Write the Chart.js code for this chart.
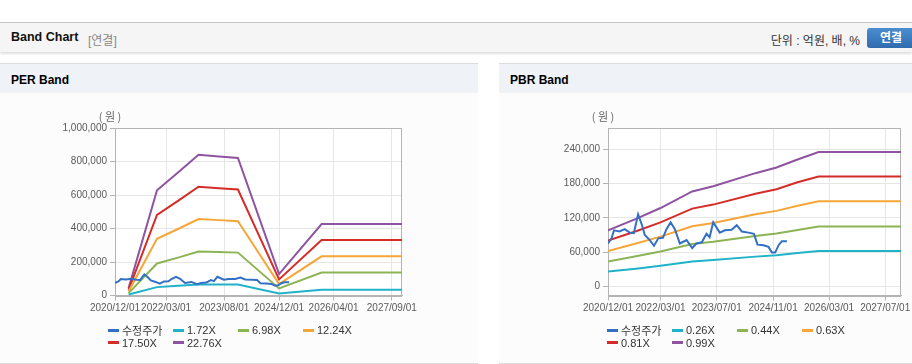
<!DOCTYPE html>
<html lang="ko">
<head>
<meta charset="utf-8">
<title>Band Chart</title>
<script src="https://cdn.jsdelivr.net/npm/chart.js@4.4.1/dist/chart.umd.min.js"></script>
<style>
  html, body { margin: 0; padding: 0; }
  body {
    width: 912px; height: 364px; overflow: hidden; position: relative; background: #fff;
    font-family: 'Liberation Sans', 'Noto Sans CJK KR', sans-serif;
  }
  .topbar {
    position: absolute; left: 0; top: 22px; width: 912px; height: 29px; background: #f5f5f5;
    border-top: 1px solid #c8c8c8; box-shadow: 0 2px 2px rgba(0, 0, 0, 0.12);
  }
  .topbar .title { position: absolute; left: 11px; top: 7px; font-size: 12.5px; font-weight: bold; color: #111; }
  .topbar .sub { position: absolute; left: 88px; top: 8px; font-size: 12px; color: #888; }
  .topbar .unit { position: absolute; right: 52px; top: 8px; font-size: 12px; color: #333; }
  .topbar .btn {
    position: absolute; left: 867px; top: 5px; width: 48px; height: 20px; border-radius: 3px;
    background: linear-gradient(#4b8dd0, #2e6cae); color: #fff; font-size: 12px; font-weight: bold;
    text-align: center; line-height: 20px;
  }
  .panel {
    position: absolute; top: 63px; width: 478px; height: 299px; background: #fcfcfc;
    border-top: 1px solid #dcdcdc; border-bottom: 1px solid #dcdcdc;
  }
  .panel .head { height: 29px; background: #eff2f7; }
  .panel .head span { position: absolute; left: 11px; top: 9px; font-size: 12px; font-weight: bold; color: #000; }
  .panel canvas { position: absolute; left: 0; top: 29px; }
  .legend { position: absolute; left: 108px; top: 260px; width: 264px; display: flex; flex-wrap: wrap; }
  .legend .item { width: 65px; height: 12.6px; display: flex; align-items: center; font-size: 11px; color: #333; white-space: nowrap; }
  .legend .mark { display: inline-block; width: 11px; height: 3px; margin-right: 3px; }
</style>
</head>
<body>
<div class="topbar">
  <span class="title">Band Chart</span>
  <span class="sub">[연결]</span>
  <span class="unit">단위 : 억원, 배, %</span>
  <div class="btn">연결</div>
</div>

<div class="panel" style="left:0">
  <div class="head"><span>PER Band</span></div>
  <canvas id="perChart" width="478" height="269"></canvas>
  <div class="legend" id="perLegend"></div>
</div>

<div class="panel" style="left:499px">
  <div class="head"><span>PBR Band</span></div>
  <canvas id="pbrChart" width="478" height="269"></canvas>
  <div class="legend" id="pbrLegend"></div>
</div>

<script>
// 수정주가 (same price series on both charts)
const priceLabel = '수정주가';
const priceDates = ['2020/12/01', '2021/01/01', '2021/01/22', '2021/03/10', '2021/04/25', '2021/06/07',
    '2021/07/13', '2021/08/19', '2021/09/22', '2021/10/16', '2021/11/28', '2022/01/04', '2022/02/10',
    '2022/03/22', '2022/04/22', '2022/05/28', '2022/07/04', '2022/08/16', '2022/10/13', '2022/12/01',
    '2023/01/07', '2023/02/22', '2023/04/04', '2023/05/01', '2023/06/01', '2023/07/28', '2023/09/10',
    '2023/11/07', '2023/12/22', '2024/02/04', '2024/04/01', '2024/05/19', '2024/06/19', '2024/08/10',
    '2024/09/22', '2024/10/22', '2024/11/19', '2024/12/19', '2025/01/16', '2025/03/01'];
const priceValues = [75000, 84000, 98000, 96000, 100000, 94000,
    93000, 126000, 107000, 90000, 81000, 71000, 84000,
    85000, 100000, 112000, 100000, 75000, 81000, 67000,
    75000, 77000, 92000, 86000, 112000, 94000, 98000,
    99000, 107000, 96000, 94000, 92000, 73000, 72000,
    69000, 59000, 59000, 72000, 79000, 79000];

// PER band
const perMultiples = ['1.72X', '6.98X', '12.24X', '17.50X', '22.76X'];
const perBandDates = ['2021/04/01', '2021/12/10', '2022/06/15', '2022/12/15', '2023/06/15', '2023/12/01',
    '2024/12/01', '2025/12/15', '2027/12/01'];
const per172 = [6000, 50000, 58000, 66000, 66000, 65000, 12000, 34000, 34000];
const per698 = [14000, 191000, 226000, 262000, 259000, 256000, 42000, 137000, 137000];
const per1224 = [24000, 338000, 397000, 456000, 450000, 443000, 68000, 234000, 234000];
const per1750 = [34000, 481000, 565000, 649000, 641000, 633000, 96000, 331000, 331000];
const per2276 = [44000, 628000, 735000, 840000, 830000, 821000, 128000, 427000, 427000];
const perXTicks = ['2020/12/01', '2022/03/01', '2023/08/01', '2024/12/01', '2026/04/01', '2027/09/01'];
const perXRange = ['2020/12/01', '2027/12/01'];
const perYTicks = [0, 200000, 400000, 600000, 800000, 1000000];
const perYRange = [0, 1000000];

// PBR band
const pbrMultiples = ['0.26X', '0.44X', '0.63X', '0.81X', '0.99X'];
const pbrBandDates = ['2020/12/01', '2021/08/01', '2022/03/01', '2022/12/01', '2023/06/01', '2024/06/01',
    '2024/12/01', '2025/06/01', '2025/12/01', '2027/11/15'];
const pbr026 = [26000, 31000, 36000, 43500, 46000, 52000, 54500, 58500, 61800, 61800];
const pbr044 = [43500, 52500, 61000, 74000, 78000, 88000, 92500, 98500, 104500, 104500];
const pbr063 = [62000, 75000, 87000, 105000, 111000, 126000, 132000, 141000, 149000, 149000];
const pbr081 = [80000, 96500, 112000, 136000, 143000, 162000, 170000, 182000, 192000, 192000];
const pbr099 = [98000, 118000, 137000, 166000, 175000, 198000, 208000, 222000, 235000, 235000];
const pbrXTicks = ['2020/12/01', '2022/03/01', '2023/07/01', '2024/11/01', '2026/03/01', '2027/07/01'];
const pbrXRange = ['2020/12/01', '2027/11/15'];
const pbrYTicks = [0, 60000, 120000, 180000, 240000];
const pbrYRange = [-16000, 277000];

const unitText = '( 원 )';
const lineColors = ['#336fc4', '#1fb2c8', '#8cb454', '#f5a637', '#d42d28', '#8e54a1'];
const fontFamily = "'Liberation Sans', 'Noto Sans CJK KR', sans-serif";

Chart.defaults.font.family = fontFamily;

function toTime(s) {
    const [y, m, d] = s.split('/').map(Number);
    return Date.UTC(y, m - 1, d);
}

function points(dates, values) {
    return dates.map((d, i) => ({ x: toTime(d), y: values[i] }));
}

// plot frame, white plot background and the unit label
const framePlugin = {
    id: 'frame',
    beforeDraw(chart) {
        const a = chart.chartArea, ctx = chart.ctx;
        ctx.save();
        ctx.fillStyle = '#fff';
        ctx.fillRect(a.left, a.top, a.right - a.left, a.bottom - a.top);
        ctx.restore();
    },
    beforeDatasetsDraw(chart) {
        const a = chart.chartArea, ctx = chart.ctx;
        ctx.save();
        ctx.strokeStyle = '#b4b4b4';
        ctx.lineWidth = 1;
        ctx.strokeRect(Math.round(a.left) + 0.5, Math.round(a.top) + 0.5,
            Math.round(a.right - a.left) - 1, Math.round(a.bottom - a.top));
        ctx.fillStyle = '#666';
        ctx.font = "11px 'Noto Sans CJK KR', sans-serif";
        ctx.textAlign = 'center';
        ctx.textBaseline = 'middle';
        ctx.fillText(unitText, a.left - 5, a.top - 11);
        ctx.restore();
    }
};

function bandChart(canvasId, legendId, bandDates, bands, multiples, xTicks, xRange, yTicks, yRange, yWidth) {
    const datasets = [{
        label: priceLabel,
        data: points(priceDates, priceValues),
        borderColor: lineColors[0]
    }];
    bands.forEach((vals, k) => {
        datasets.push({
            label: multiples[k],
            data: points(bandDates, vals),
            borderColor: lineColors[k + 1]
        });
    });

    new Chart(document.getElementById(canvasId), {
        type: 'line',
        data: { datasets },
        options: {
            responsive: false,
            animation: false,
            elements: {
                point: { radius: 0 },
                line: { borderWidth: 2, tension: 0 }
            },
            layout: { padding: { left: 0, right: 76, top: 35, bottom: 46.5 } },
            plugins: {
                legend: { display: false },
                tooltip: { enabled: false }
            },
            scales: {
                x: {
                    type: 'linear',
                    min: toTime(xRange[0]),
                    max: toTime(xRange[1]),
                    afterBuildTicks: axis => { axis.ticks = xTicks.map(t => ({ value: toTime(t) })); },
                    afterFit: axis => { axis.height = 20; },
                    grid: { color: '#e6e6e6', tickColor: '#b4b4b4', tickLength: 5 },
                    border: { color: '#b4b4b4' },
                    ticks: {
                        callback: (v, i) => xTicks[i],
                        color: '#5a5a5a',
                        font: { size: 10 },
                        padding: 2,
                        maxRotation: 0,
                        autoSkip: false
                    }
                },
                y: {
                    min: yRange[0],
                    max: yRange[1],
                    afterBuildTicks: axis => { axis.ticks = yTicks.map(v => ({ value: v })); },
                    afterFit: axis => { axis.width = yWidth; },
                    grid: { color: '#e6e6e6', tickColor: '#b4b4b4', tickLength: 5 },
                    border: { color: '#b4b4b4' },
                    ticks: {
                        callback: v => v.toLocaleString('en-US'),
                        color: '#5a5a5a',
                        font: { size: 10 },
                        padding: 3
                    }
                }
            }
        },
        plugins: [framePlugin]
    });

    document.getElementById(legendId).innerHTML = datasets.map(ds =>
        `<div class="item"><span class="mark" style="background:${ds.borderColor}"></span>${ds.label}</div>`
    ).join('');
}

bandChart('perChart', 'perLegend', perBandDates, [per172, per698, per1224, per1750, per2276],
    perMultiples, perXTicks, perXRange, perYTicks, perYRange, 115);
bandChart('pbrChart', 'pbrLegend', pbrBandDates, [pbr026, pbr044, pbr063, pbr081, pbr099],
    pbrMultiples, pbrXTicks, pbrXRange, pbrYTicks, pbrYRange, 109);
</script>
</body>
</html>
